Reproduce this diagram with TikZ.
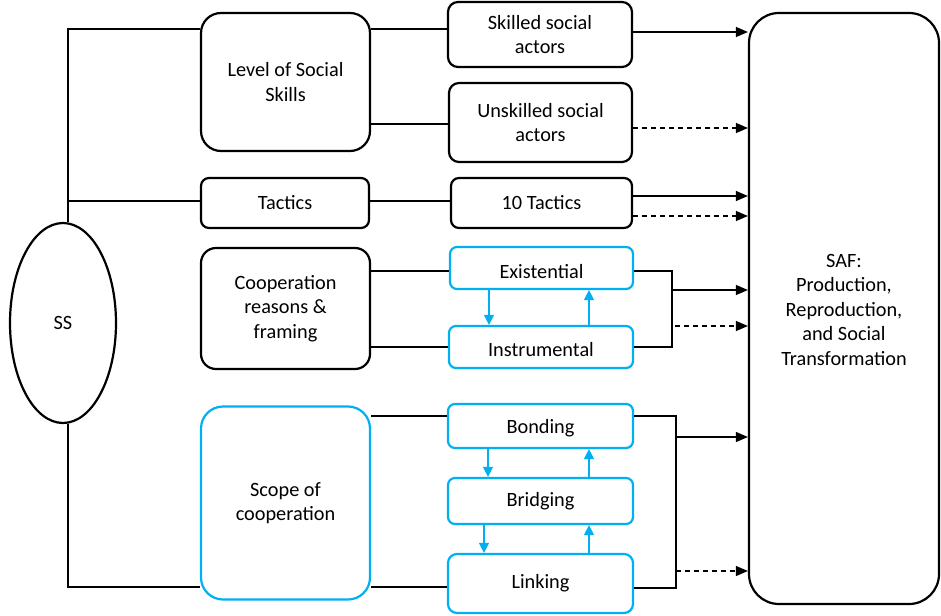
\documentclass[tikz,border=0pt]{standalone}
\usepackage{fontspec}
\setmainfont{Carlito}
\usetikzlibrary{arrows.meta,shapes.geometric}
\definecolor{sky}{RGB}{0,176,240}
\newcommand{\lowered}[2]{\raisebox{-#1}[\height][\depth]{#2}}
\begin{document}
\begin{tikzpicture}[x=1pt,y=-1pt,
  every node/.style={font=\fontsize{20.3}{24.5}\selectfont, align=center, inner sep=0pt},
  box/.style={draw, line width=2.2pt, rounded corners=#1},
  bluebox/.style={box=#1, draw=sky},
  link/.style={line width=1.2pt},
  toarr/.style={link, -{Triangle[length=12pt,width=10pt]}},
  dashto/.style={toarr, dash pattern=on 5pt off 4pt},
  cycle arr/.style={draw=sky, line width=1.3pt, -{Triangle[length=10pt,width=10pt]}}
]
\useasboundingbox (0,0) rectangle (941,615);

% central concept
\node[draw, ellipse, line width=2.2pt, minimum width=106pt, minimum height=200pt] (ss) at (63,323) {SS};

% first column
\node[box=20pt, minimum width=169pt, minimum height=138pt] (lvl) at (285.5,82) {Level of Social\\Skills};
\node[box=8pt, minimum width=168pt, minimum height=50pt] (tac) at (285,203) {Tactics};
\node[box=15pt, minimum width=169pt, minimum height=121pt] (coop) at (285.5,308.5) {Cooperation\\reasons \&\\framing};
\node[bluebox=22pt, minimum width=169pt, minimum height=193pt] (scope) at (285.5,503) {Scope of\\cooperation};

% second column
\node[box=10pt, minimum width=184pt, minimum height=65pt] (sk) at (540,34.5) {Skilled social\\actors};
\node[box=10pt, minimum width=183pt, minimum height=79pt] (unsk) at (540.5,122.5) {Unskilled social\\actors};
\node[box=8pt, minimum width=181pt, minimum height=50pt] (tacten) at (541.5,203) {10 Tactics};
\node[bluebox=7pt, minimum width=183pt, minimum height=42pt] (exi) at (541.5,268) {\lowered{4pt}{Existential}};
\node[bluebox=7pt, minimum width=184pt, minimum height=42pt] (ins) at (541,347) {\lowered{3pt}{Instrumental}};
\node[bluebox=7pt, minimum width=185pt, minimum height=44pt] (bon) at (540.5,426) {\lowered{2pt}{Bonding}};
\node[bluebox=7pt, minimum width=185pt, minimum height=46pt] (bri) at (540.5,501) {Bridging};
\node[bluebox=9pt, minimum width=185pt, minimum height=59pt] (lin) at (540.5,583.5) {Linking};

% outcome
\node[box=30pt, minimum width=190pt, minimum height=591pt] (saf) at (844,308.5) {\lowered{3pt}{\begin{tabular}{@{}c@{}}SAF:\\Production,\\Reproduction,\\and Social\\Transformation\end{tabular}}};

% trunk from SS
\coordinate (trunk) at (68,0);
\draw[link] (lvl.west |- 0,29) -- (trunk |- 0,29) -- (trunk |- ss.north);
\draw[link] (tac.west |- 0,201) -- (trunk |- 0,201);
\draw[link] (trunk |- ss.south) |- (scope.west |- 0,587);

% first to second column
\draw[link] (lvl.east |- 0,29) -- (sk.west |- 0,29);
\draw[link] (lvl.east |- 0,124) -- (unsk.west |- 0,124);
\draw[link] (tac.east |- 0,201) -- (tacten.west |- 0,201);
\draw[link] (coop.east |- 0,271) -- (exi.west |- 0,271);
\draw[link] (coop.east |- 0,347) -- (ins.west |- 0,347);
\draw[link] (scope.east |- 0,416) -- (bon.west |- 0,416);
\draw[link] (scope.east |- 0,587) -- (lin.west |- 0,587);

% cycles between levels
\draw[cycle arr] (exi.south -| 489,0) -- (ins.north -| 489,0);
\draw[cycle arr] (ins.north -| 589,0) -- (exi.south -| 589,0);
\draw[cycle arr] (bon.south -| 488,0) -- (bri.north -| 488,0);
\draw[cycle arr] (bri.north -| 589,0) -- (bon.south -| 589,0);
\draw[cycle arr] (bri.south -| 484,0) -- (lin.north -| 484,0);
\draw[cycle arr] (lin.north -| 589,0) -- (bri.south -| 589,0);

% brackets joining paired boxes
\coordinate (jA) at (672,0);
\coordinate (jB) at (676,0);
\draw[link] (exi.east |- 0,271) -| (jA |- 0,347) -- (ins.east |- 0,347);
\draw[link] (bon.east |- 0,416) -| (jB |- 0,588) -- (lin.east |- 0,588);

% arrows into SAF
\draw[toarr] (sk.east |- 0,32) -- (saf.west |- 0,32);
\draw[dashto] (unsk.east |- 0,128) -- (saf.west |- 0,128);
\draw[toarr] (tacten.east |- 0,196) -- (saf.west |- 0,196);
\draw[dashto] (tacten.east |- 0,216) -- (saf.west |- 0,216);
\draw[toarr] (jA |- 0,290) -- (saf.west |- 0,290);
\draw[dashto] (jA |- 0,326) ++(3,0) -- (saf.west |- 0,326);
\draw[toarr] (jB |- 0,437) -- (saf.west |- 0,437);
\draw[dashto] (jB |- 0,571) -- (saf.west |- 0,571);
\end{tikzpicture}
\end{document}
